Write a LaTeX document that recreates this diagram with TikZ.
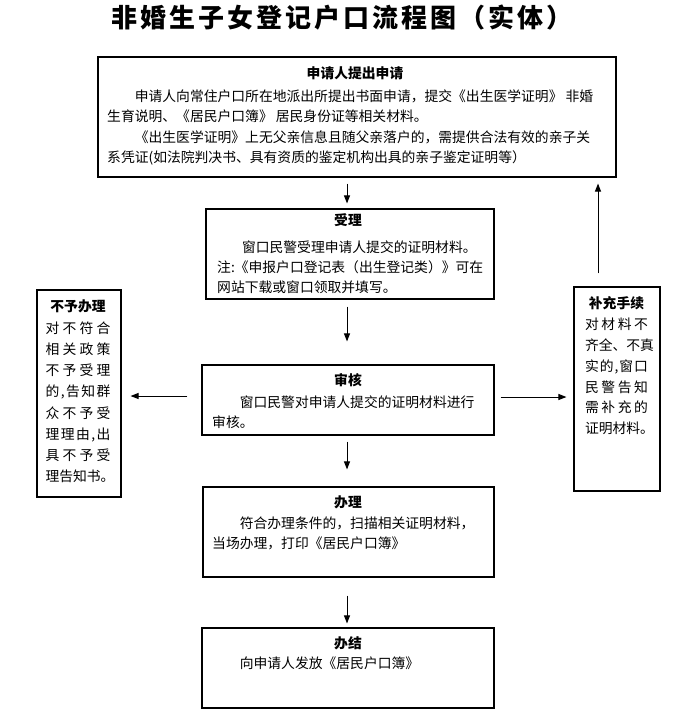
\documentclass[tikz,border=0pt]{standalone}
\usepackage{fontspec}
\setmainfont{Noto Sans CJK SC}
\usetikzlibrary{arrows.meta}
\tikzset{
  box/.style={draw, line width=1.1pt, inner sep=0pt},
  ttl/.style={font=\fontsize{13.8}{16}\selectfont\bfseries, inner sep=0pt, anchor=center},
  txt/.style={align=left, inner sep=0pt, anchor=west},
  side/.style={align=center, inner sep=0pt, anchor=center},
  arr/.style={-{Triangle[length=8pt,width=6pt]}, line width=1pt},
}
\newcommand{\bodyfont}[1]{\fontsize{13.8}{#1}\selectfont}
\begin{document}
\begin{tikzpicture}[x=1pt,y=-1pt]
\fill[white] (0,0) rectangle (689,723);
\useasboundingbox (0,0) rectangle (689,723);

% title
\node[inner sep=0pt, font=\fontsize{26}{30}\selectfont\bfseries] (title) at (342,18)
  {\makebox[461pt][s]{非\hfill 婚\hfill 生\hfill 子\hfill 女\hfill 登\hfill 记\hfill 户\hfill 口\hfill 流\hfill 程\hfill 图\hfill （\hfill 实\hfill 体\hfill ）}};

% boxes
\node[box, minimum width=518pt, minimum height=120pt] (b1) at (357,117) {};
\node[box, minimum width=288pt, minimum height=90pt] (b2) at (350,254) {};
\node[box, minimum width=84pt, minimum height=207pt] (bl) at (79,393.5) {};
\node[box, minimum width=86pt, minimum height=204pt] (br) at (617,389) {};
\node[box, minimum width=292pt, minimum height=70pt] (b3) at (348,400) {};
\node[box, minimum width=291pt, minimum height=90pt] (b4) at (348.5,532) {};
\node[box, minimum width=292pt, minimum height=80pt] (b5) at (348,668) {};

% box 1
\node[ttl] (t1) at (355,73) {申请人提出申请};
\node[txt, font=\bodyfont{20.4}] (x1) at (107,127.6) {\hspace*{2em}申请人向常住户口所在地派出所提出书面申请，提交《出生医学证明》 非婚\\
生育说明、《居民户口簿》 居民身份证等相关材料。\\
\hspace*{2em}《出生医学证明》上无父亲信息且随父亲落户的，需提供合法有效的亲子关\\
系凭证(如法院判决书、具有资质的鉴定机构出具的亲子鉴定证明等）};

% box 2
\node[ttl] (t2) at (348,220) {受理};
\node[txt, font=\bodyfont{20}] (x2) at (217,267) {\hspace*{1.8em}窗口民警受理申请人提交的证明材料。\\
注:《申报户口登记表（出生登记类）》可在\\
网站下载或窗口领取并填写。};

% box 3
\node[ttl] (t3) at (348,380) {审核};
\node[txt, font=\bodyfont{20}] (x3) at (212,412) {\hspace*{2em}窗口民警对申请人提交的证明材料进行\\
审核。};

% box 4
\node[ttl] (t4) at (348,502) {办理};
\node[txt, font=\bodyfont{20}] (x4) at (212,533) {\hspace*{2em}符合办理条件的，扫描相关证明材料，\\
当场办理，打印《居民户口簿》};

% box 5
\node[ttl] (t5) at (348,643) {办结};
\node[txt, font=\bodyfont{20}] (x5) at (212,663) {\hspace*{2em}向申请人发放《居民户口簿》};

% left box
\node[side, font=\bodyfont{21.25}] (xl) at (78,391.7) {\makebox[65pt]{\bfseries 不予办理}\\
\makebox[65pt][s]{对\hfill 不\hfill 符\hfill 合}\\
\makebox[65pt][s]{相\hfill 关\hfill 政\hfill 策}\\
\makebox[65pt][s]{不\hfill 予\hfill 受\hfill 理}\\
\makebox[65pt][s]{的\hfill ,\hfill 告\hfill 知\hfill 群}\\
\makebox[65pt][s]{众\hfill 不\hfill 予\hfill 受}\\
\makebox[65pt][s]{理\hfill 理\hfill 由\hfill ,\hfill 出}\\
\makebox[65pt][s]{具\hfill 不\hfill 予\hfill 受}\\
\makebox[65pt][s]{理\hfill 告\hfill 知\hfill 书\hfill 。}};

% right box
\node[side, font=\bodyfont{20.83}] (xr) at (616.5,365.8) {\makebox[63pt]{\bfseries 补充手续}\\
\makebox[63pt][s]{对\hfill 材\hfill 料\hfill 不}\\
\makebox[63pt][s]{齐\hfill 全\hfill 、\hfill 不\hfill 真}\\
\makebox[63pt][s]{实\hfill 的\hfill ,\hfill 窗\hfill 口}\\
\makebox[63pt][s]{民\hfill 警\hfill 告\hfill 知}\\
\makebox[63pt][s]{需\hfill 补\hfill 充\hfill 的}\\
\makebox[63pt][s]{证\hfill 明\hfill 材\hfill 料\hfill 。}};

% arrows
\draw[arr] ([xshift=-10pt,yshift=-6pt]b1.south) -- ([xshift=-3pt,yshift=5pt]b2.north);
\draw[arr] ([xshift=-3pt,yshift=-7pt]b2.south) -- ([xshift=-1pt,yshift=23pt]b3.north);
\draw[arr] ([xshift=-14pt,yshift=4pt]b3.west) -- ([xshift=9pt,yshift=4pt]bl.east |- b3.west);
\draw[arr] ([xshift=6pt,yshift=3pt]b3.east) -- ([xshift=-7pt,yshift=3pt]br.west |- b3.east);
\draw[arr] ([xshift=-1pt,yshift=-6pt]b3.south) -- ([xshift=-1.5pt,yshift=17pt]b4.north);
\draw[arr] ([xshift=-1.5pt,yshift=-18pt]b4.south) -- ([xshift=-1pt,yshift=4pt]b5.north);
\draw[arr] ([xshift=-19pt,yshift=13pt]br.north) -- ([xshift=241pt,yshift=-6pt]b1.south);
\end{tikzpicture}
\end{document}
